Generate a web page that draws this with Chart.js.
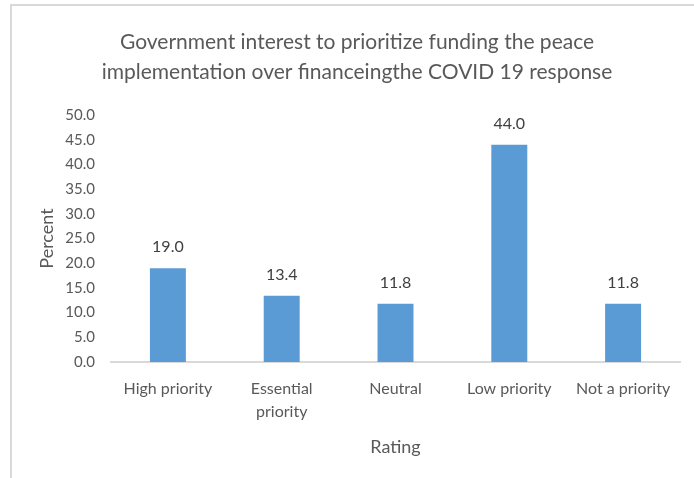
<!DOCTYPE html>
<html>
<head>
<meta charset="utf-8">
<title>Government interest to prioritize funding</title>
<script src="https://cdn.jsdelivr.net/npm/chart.js@4.4.1/dist/chart.umd.min.js"></script>
<style>
  html, body { margin: 0; padding: 0; background: #fff; }
  #wrap { position: relative; width: 694px; height: 478px; overflow: hidden; }
  #frame {
    position: absolute; left: 10px; top: 4px; width: 700px; height: 500px;
    border-left: 2px solid #d9d9d9; border-top: 2px solid #d9d9d9;
  }
  canvas { position: absolute; left: 34px; top: 0; }
</style>
</head>
<body>
<div id="wrap">
  <div id="frame"></div>
  <canvas id="ratingChart" width="660" height="478"></canvas>
</div>
<script>
const categories = ['High priority', ['Essential', 'priority'], 'Neutral', 'Low priority', 'Not a priority'];
const percentValues = [19.0, 13.4, 11.8, 44.0, 11.8];
const titleLines = ['Government interest to prioritize funding the peace', 'implementation over financeingthe COVID 19 response'];

const textGray = '#595959';
const barBlue = '#5b9bd5';
const fontFamily = 'Lato, "Open Sans", sans-serif';

// value labels above each bar
const barLabels = {
  id: 'barLabels',
  afterDatasetsDraw(chart) {
    const ctx = chart.ctx;
    const meta = chart.getDatasetMeta(0);
    ctx.save();
    ctx.fillStyle = '#404040';
    ctx.font = '16px ' + fontFamily;
    ctx.textAlign = 'center';
    ctx.textBaseline = 'bottom';
    meta.data.forEach((bar, i) => {
      ctx.fillText(percentValues[i].toFixed(1), bar.x, bar.y - 13);
    });
    ctx.restore();
  }
};

new Chart(document.getElementById('ratingChart').getContext('2d'), {
  type: 'bar',
  data: {
    labels: categories,
    datasets: [{
      data: percentValues,
      backgroundColor: barBlue,
      borderWidth: 0,
      categoryPercentage: 1,
      barPercentage: 0.316
    }]
  },
  options: {
    responsive: false,
    animation: false,
    layout: { padding: { left: 0, right: 14, top: 0, bottom: 0 } },
    plugins: {
      legend: { display: false },
      tooltip: { enabled: false },
      title: {
        display: true,
        text: titleLines,
        color: textGray,
        font: { family: fontFamily, size: 21, weight: 'normal', lineHeight: 1.43 },
        padding: { top: 27, bottom: 28 }
      }
    },
    scales: {
      x: {
        grid: { display: false, drawTicks: false },
        border: { display: true, color: '#d9d9d9', width: 2 },
        ticks: { color: textGray, font: { family: fontFamily, size: 16, lineHeight: 1.45 }, padding: 15, maxRotation: 0, autoSkip: false },
        title: { display: true, text: 'Rating', color: textGray, font: { family: fontFamily, size: 18 }, padding: { top: 10, bottom: 20 } },
        afterFit(scale) { scale.height = 116; }
      },
      y: {
        min: 0,
        max: 50,
        grid: { display: false, drawTicks: false },
        border: { display: false },
        ticks: {
          stepSize: 5,
          color: textGray,
          font: { family: fontFamily, size: 15 },
          padding: 16,
          callback: v => v.toFixed(1)
        },
        title: { display: true, text: 'Percent', color: textGray, font: { family: fontFamily, size: 18 }, padding: { top: 2, bottom: 0 } },
        afterFit(scale) { scale.width = 77; }
      }
    }
  },
  plugins: [barLabels]
});
</script>
</body>
</html>
